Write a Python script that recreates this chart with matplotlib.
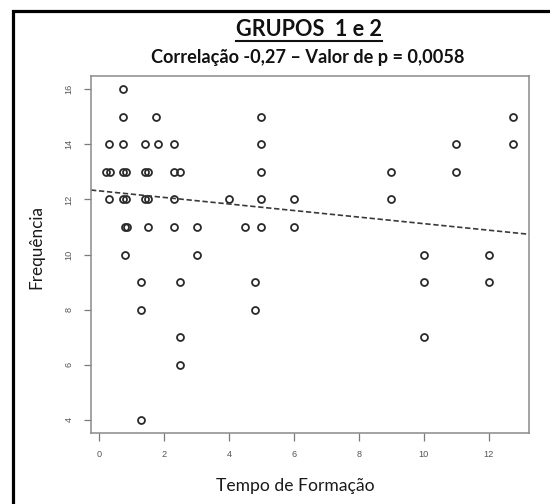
import matplotlib
matplotlib.use("Agg")
import matplotlib.pyplot as plt
from matplotlib.lines import Line2D
from matplotlib.patches import Rectangle

# ---------------- data ----------------
tempo = [
    0.75,                                                    # y=16
    0.75, 1.75, 5.0, 12.75,                                  # y=15
    0.3, 0.75, 1.4, 1.8, 2.3, 5.0, 11.0, 12.75,              # y=14
    0.22, 0.32, 0.75, 0.82, 1.4, 1.5, 2.3, 2.5, 5.0, 9.0, 11.0,  # y=13
    0.3, 0.75, 0.82, 1.4, 1.5, 2.3, 4.0, 5.0, 6.0, 9.0,      # y=12
    0.8, 0.86, 1.5, 2.3, 3.0, 4.5, 5.0, 6.0,                 # y=11
    0.8, 3.0, 10.0, 12.0,                                    # y=10
    1.3, 2.5, 4.8, 10.0, 12.0,                               # y=9
    1.3, 4.8,                                                # y=8
    2.5, 10.0,                                               # y=7
    2.5,                                                     # y=6
    1.3,                                                     # y=4
]
frequencia = (
    [16] * 1 + [15] * 4 + [14] * 8 + [13] * 11 + [12] * 10 + [11] * 8
    + [10] * 4 + [9] * 5 + [8] * 2 + [7] * 2 + [6] * 1 + [4] * 1
)
reg_intercept = 12.31
reg_slope = -0.119

x_ticks = [0, 2, 4, 6, 8, 10, 12]
y_ticks = [4, 6, 8, 10, 12, 14, 16]

title = "GRUPOS  1 e 2"
subtitle = "Correlação -0,27 \u2013 Valor de p = 0,0058"
xlabel = "Tempo de Formação"
ylabel = "Frequência"

# ---------------- figure ----------------
W, H = 550, 504
fig = plt.figure(figsize=(W / 100, H / 100), dpi=100)
fig.patch.set_facecolor("white")

def fx(px):
    return px / W

def fy(py):
    return 1 - py / H

# axes box: x 91..529, y 76..433 (pixels)
ax = fig.add_axes([fx(91), fy(433), fx(529) - fx(91), fy(76) - fy(433)])
ax.set_xlim(-0.25, 13.24)
ax.set_ylim(3.52, 16.48)

ax.plot(tempo, frequencia, linestyle="none", marker="o", markersize=5.0,
        markerfacecolor="none", markeredgecolor="#2a2a2a", markeredgewidth=1.3)

ax.axline((0, reg_intercept), slope=reg_slope, color="#3a3a3a",
          linewidth=1.2, linestyle=(0, (3.2, 1.6)))

box_col = "#8a8a8a"
for s in ax.spines.values():
    s.set_color(box_col)
    s.set_linewidth(1.1)

ax.set_xticks(x_ticks)
ax.set_yticks(y_ticks)
ax.set_xticklabels([str(v) for v in x_ticks])
ax.set_yticklabels([str(v) for v in y_ticks], rotation=90, va="center")
ax.tick_params(axis="both", direction="out", length=5.4, width=0.9,
               color="#7a7a7a", labelsize=6.6, labelcolor="#555555", pad=7.0)
for lab in ax.get_xticklabels() + ax.get_yticklabels():
    lab.set_family("Liberation Sans")

# ---------------- texts ----------------
lbl_font = "Lato"
fig.text(fx(295), fy(486), xlabel, ha="center", va="center",
         fontsize=12.6, family=lbl_font, color="#1a1a1a")
fig.text(fx(36), fy(247), ylabel, ha="center", va="center", rotation=90,
         fontsize=12.3, family=lbl_font, color="#1a1a1a")

t = fig.text(fx(308.5), fy(30), title, ha="center", va="center",
             fontsize=15.6, family=lbl_font, fontweight="bold", color="#111111")
fig.text(fx(308), fy(57), subtitle, ha="center", va="center",
         fontsize=13.1, family=lbl_font, fontweight="bold", color="#111111")

# underline of the title
fig.canvas.draw()
bb = t.get_window_extent()
fig.add_artist(Line2D([bb.x0 / W, bb.x1 / W], [fy(41), fy(41)],
                      transform=fig.transFigure, color="#111111", linewidth=1.5))

# outer black frame (cut at right and bottom edges)
fig.add_artist(Rectangle((fx(12.5), -0.2), 1.5, fy(11.5) + 0.2,
                         transform=fig.transFigure, fill=False,
                         edgecolor="black", linewidth=2.3, clip_on=False))

fig.savefig("out.png", dpi=100)
